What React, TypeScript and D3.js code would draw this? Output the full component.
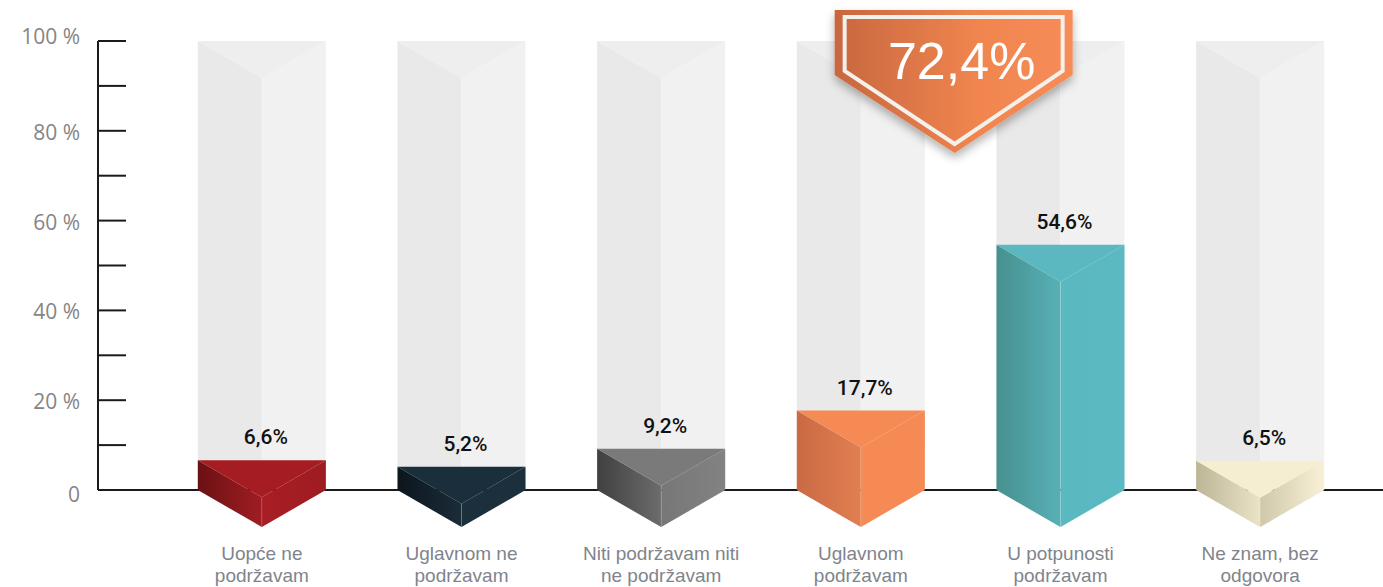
import React from "react";
import * as d3 from "d3";

const categories = ["c1", "c2", "c3", "c4", "c5", "c6"];
const categoryLines = [
  ["Uopće ne", "podržavam"],
  ["Uglavnom ne", "podržavam"],
  ["Niti podržavam niti", "ne podržavam"],
  ["Uglavnom", "podržavam"],
  ["U potpunosti", "podržavam"],
  ["Ne znam, bez", "odgovora"],
];
const values = [6.6, 5.2, 9.2, 17.7, 54.6, 6.5];
const valueLabels = ["6,6%", "5,2%", "9,2%", "17,7%", "54,6%", "6,5%"];
const yTicks = [0, 10, 20, 30, 40, 50, 60, 70, 80, 90, 100];
const yLabelTicks = [0, 20, 40, 60, 80, 100];
const highlightLabel = "72,4%";
const highlightBetween = [3, 4];

const palettes = [
  { top: "#a51d22", l0: "#6a1114", l1: "#a01d22", r0: "#a81e24", r1: "#9e1c21" },
  { top: "#1b2e3c", l0: "#0c161d", l1: "#1a2c39", r0: "#1c2f3d", r1: "#1c2f3d" },
  { top: "#7a7a7a", l0: "#404040", l1: "#6c6c6c", r0: "#777777", r1: "#828282" },
  { top: "#f58a55", l0: "#c96a44", l1: "#e27f51", r0: "#f58a55", r1: "#f58a55" },
  { top: "#5bb7c0", l0: "#47908f", l1: "#57b0b6", r0: "#5ab8c1", r1: "#5ab9c2" },
  { top: "#f6eed1", l0: "#bcb596", l1: "#ebe3c6", r0: "#cfc8aa", r1: "#f8f1d6" },
];

const W = 1383;
const H = 587;
const AXIS_X = 98;
const DEPTH = 37;

export default function App() {
  const y = d3.scaleLinear().domain([0, 100]).range([490, 41]);
  const x = d3
    .scaleBand<string>()
    .domain(categories)
    .range([98, 1424])
    .paddingInner(0.3587)
    .paddingOuter(0.5);
  const bw = x.bandwidth();
  const base = y(0);
  const tip = base + DEPTH;

  const prism = (x0: number, top: number) => {
    const cx = x0 + bw / 2;
    const x1 = x0 + bw;
    const line = d3.line();
    return {
      left: line([
        [x0, top],
        [cx, top + DEPTH],
        [cx, tip],
        [x0, base],
      ])! + "Z",
      right: line([
        [cx, top + DEPTH],
        [x1, top],
        [x1, base],
        [cx, tip],
      ])! + "Z",
      top: line([
        [x0, top],
        [cx, top + DEPTH],
        [x1, top],
      ])! + "Z",
      cx,
    };
  };

  const hx =
    ((x(categories[highlightBetween[0]])! + bw / 2) +
      (x(categories[highlightBetween[1]])! + bw / 2)) /
      2 -
    6;
  const badgeOuter = d3.line()([
    [hx - 120, 10],
    [hx + 118, 10],
    [hx + 118, 75],
    [hx, 153],
    [hx - 120, 75],
  ])! + "Z";
  const badgeInner = d3.line()([
    [hx - 110, 17],
    [hx + 108, 17],
    [hx + 108, 71],
    [hx, 144],
    [hx - 110, 71],
  ])! + "Z";

  return (
    <svg
      width={W}
      height={H}
      style={{ position: "absolute", left: 0, top: 0, background: "#fff" }}
    >
      <defs>
        {palettes.map((p, i) => (
          <React.Fragment key={i}>
            <linearGradient id={`gl${i}`} x1="0" x2="1" y1="0" y2="0">
              <stop offset="0" stopColor={p.l0} />
              <stop offset="1" stopColor={p.l1} />
            </linearGradient>
            <linearGradient id={`gr${i}`} x1="0" x2="1" y1="0" y2="0">
              <stop offset="0" stopColor={p.r0} />
              <stop offset="1" stopColor={p.r1} />
            </linearGradient>
          </React.Fragment>
        ))}
        <linearGradient id="badge" x1="0" x2="1" y1="0" y2="0">
          <stop offset="0" stopColor="#c8673f" />
          <stop offset="0.6" stopColor="#f0854f" />
          <stop offset="1" stopColor="#f68c57" />
        </linearGradient>
        <filter id="shadow" x="-20%" y="-20%" width="140%" height="150%">
          <feDropShadow dx="0" dy="5" stdDeviation="5" floodColor="#000" floodOpacity="0.3" />
        </filter>
      </defs>

      {/* background prisms */}
      {categories.map((c) => {
        const p = prism(x(c)!, y(100));
        return (
          <g key={"bg" + c}>
            <path d={p.left} fill="#e9e9e9" />
            <path d={p.right} fill="#f1f1f1" />
            <path d={p.top} fill="#eeeeee" />
          </g>
        );
      })}

      {/* baseline */}
      <line x1={AXIS_X} x2={W} y1={base} y2={base} stroke="#1a1a1a" strokeWidth={2} />

      {/* y axis */}
      <line x1={AXIS_X} x2={AXIS_X} y1={y(100)} y2={base} stroke="#1a1a1a" strokeWidth={2} />
      {yTicks.map((t) => (
        <line key={t} x1={AXIS_X} x2={126} y1={y(t)} y2={y(t)} stroke="#1a1a1a" strokeWidth={2} />
      ))}
      {yLabelTicks.map((t) => (
        <text
          key={"l" + t}
          x={80}
          y={y(t) + (t === 100 ? 3 : t === 0 ? 12 : 9)}
          textAnchor="end"
          fontFamily="'Open Sans', sans-serif"
          fontSize={21}
          fill="#858585"
        >
          {t === 0 ? "0" : `${t} %`}
        </text>
      ))}

      {/* bars */}
      {categories.map((c, i) => {
        const p = prism(x(c)!, y(values[i]));
        return (
          <g key={"bar" + c}>
            <path d={p.left} fill={`url(#gl${i})`} />
            <path d={p.right} fill={`url(#gr${i})`} />
            <path d={p.top} fill={palettes[i].top} />
            <line
              x1={p.cx}
              x2={p.cx}
              y1={y(values[i]) + DEPTH}
              y2={tip}
              stroke="#ffffff"
              strokeOpacity={0.15}
              strokeWidth={1}
            />
            <text
              x={p.cx + 4}
              y={y(values[i]) - 16}
              textAnchor="middle"
              fontFamily="Roboto, 'Liberation Sans', sans-serif"
              fontWeight={500}
              fontSize={21}
              fill="#111"
            >
              {valueLabels[i]}
            </text>
            {categoryLines[i].map((ln, j) => (
              <text
                key={j}
                x={p.cx}
                y={560 + j * 22}
                textAnchor="middle"
                fontFamily="'Liberation Sans', Arial, sans-serif"
                fontSize={19}
                fill="#80848c"
              >
                {ln}
              </text>
            ))}
          </g>
        );
      })}

      {/* highlight badge */}
      <g filter="url(#shadow)">
        <path d={badgeOuter} fill="url(#badge)" />
      </g>
      <path d={badgeInner} fill="none" stroke="#f4f0ec" strokeWidth={4} strokeLinejoin="miter" />
      <text
        x={hx + 7}
        y={79}
        textAnchor="middle"
        fontFamily="'Liberation Sans', Arial, sans-serif"
        fontSize={52}
        fill="#ffffff"
      >
        {highlightLabel}
      </text>
    </svg>
  );
}
